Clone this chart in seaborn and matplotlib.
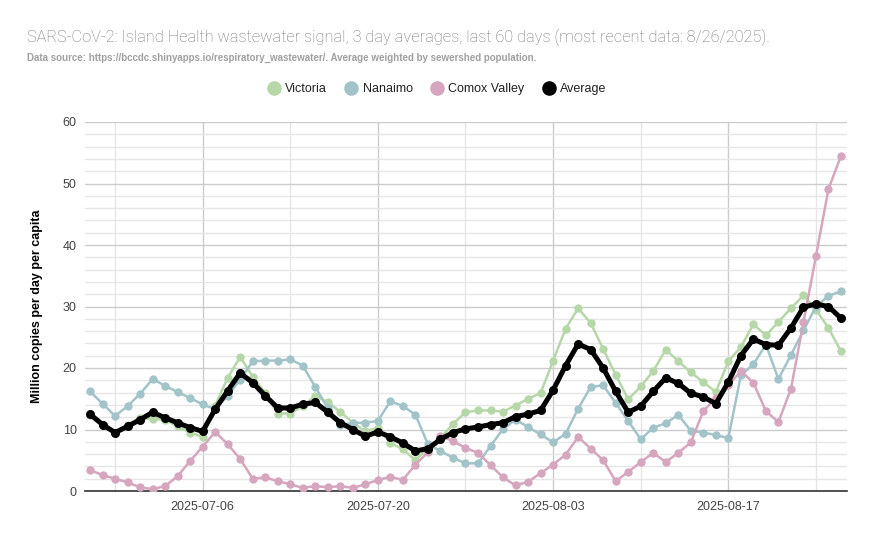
import numpy as np
import pandas as pd
import matplotlib
matplotlib.use("Agg")
import matplotlib.pyplot as plt
from matplotlib.lines import Line2D
import seaborn as sns

dates = pd.date_range("2025-06-27", "2025-08-26", freq="D")

victoria = [12.4, 10.8, 9.5, 10.7, 11.9, 11.7, 11.6, 10.5, 9.5, 8.8,
            13.9, 18.4, 21.8, 18.6, 15.9, 12.6, 12.6, 13.8, 15.5, 14.4,
            12.9, 11.1, 9.7, 10.3, 7.8, 6.8, 5.0, 7.0, 8.6, 10.9,
            12.8, 13.1, 13.1, 12.9, 13.9, 15.0, 15.9, 21.2, 26.4, 29.7,
            27.3, 23.1, 18.9, 14.9, 17.0, 19.5, 23.0, 21.1, 19.3, 17.7,
            16.1, 21.1, 23.4, 27.1, 25.3, 27.5, 29.7, 31.8, 29.5, 26.5, 22.7]
nanaimo = [16.2, 14.2, 12.2, 13.8, 15.8, 18.2, 17.1, 16.1, 15.1, 14.1,
           13.3, 15.5, 18.1, 21.1, 21.2, 21.2, 21.4, 20.4, 16.9, 13.5,
           10.7, 11.1, 11.1, 11.4, 14.6, 13.8, 12.4, 7.6, 6.5, 5.4,
           4.5, 4.5, 7.3, 10.1, 11.6, 10.4, 9.2, 7.9, 9.3, 13.4,
           16.9, 17.2, 14.3, 11.4, 8.4, 10.3, 11.0, 12.4, 9.8, 9.5,
           9.1, 8.6, 18.8, 20.6, 23.8, 18.2, 22.1, 26.1, 30.0, 31.7, 32.5]
comox = [3.4, 2.6, 2.0, 1.4, 0.6, 0.3, 0.8, 2.4, 4.9, 7.2,
         9.6, 7.6, 5.2, 2.0, 2.2, 1.6, 1.1, 0.5, 0.8, 0.6,
         0.8, 0.5, 1.1, 1.8, 2.3, 1.8, 4.3, 6.3, 9.0, 8.1,
         7.0, 6.2, 4.2, 2.2, 0.9, 1.5, 2.9, 4.3, 5.9, 8.8,
         6.9, 5.0, 1.6, 3.1, 4.7, 6.2, 4.7, 6.2, 7.9, 13.0,
         15.1, 17.2, 19.5, 17.6, 13.0, 11.2, 16.6, 27.4, 38.2, 49.1, 54.5]
average = [12.5, 10.8, 9.5, 10.5, 11.6, 12.8, 11.9, 11.1, 10.3, 9.7,
           13.3, 16.3, 19.2, 17.6, 15.5, 13.5, 13.5, 14.1, 14.4, 12.8,
           11.1, 10.0, 8.9, 9.6, 8.8, 7.8, 6.5, 6.9, 8.4, 9.5,
           10.1, 10.4, 10.8, 11.1, 12.1, 12.5, 13.1, 16.4, 20.4, 23.9,
           23.0, 20.0, 16.2, 12.8, 13.8, 16.2, 18.4, 17.5, 15.9, 15.3,
           14.2, 17.7, 22.0, 24.7, 23.8, 23.7, 26.5, 29.9, 30.4, 30.0, 28.1]

series_names = ["Victoria", "Nanaimo", "Comox Valley", "Average"]
colors = ["#b6d7a8", "#a2c4c9", "#d5a6bd", "#000000"]
x_ticks = ["2025-07-06", "2025-07-20", "2025-08-03", "2025-08-17"]

title = "SARS-CoV-2: Island Health wastewater signal, 3 day averages, last 60 days (most recent data: 8/26/2025)."
subtitle = "Data source: https://bccdc.shinyapps.io/respiratory_wastewater/. Average weighted by sewershed population."
ylabel = "Million copies per day per capita"

df = pd.DataFrame({"date": dates, "Victoria": victoria, "Nanaimo": nanaimo,
                   "Comox Valley": comox, "Average": average})
long = df.melt(id_vars="date", var_name="series", value_name="value")

sns.set_theme(style="white")
plt.rcParams["font.family"] = ["Liberation Sans", "DejaVu Sans"]

fig = plt.figure(figsize=(8.73, 5.39), dpi=100)
ax = fig.add_axes([85/873, 1-491/539, (847-85)/873, (491-122)/539])

for name, col in zip(series_names, colors):
    sub = long[long["series"] == name]
    is_avg = name == "Average"
    sns.lineplot(data=sub, x="date", y="value", ax=ax, color=col,
                 linewidth=3.6 if is_avg else 1.8,
                 marker="o", markersize=6.5 if is_avg else 6,
                 markeredgewidth=0, zorder=5 if is_avg else 3,
                 legend=False)

ax.set_ylim(0, 60)
ax.set_xlim(dates[0] - pd.Timedelta(days=0.4), dates[-1] + pd.Timedelta(days=0.48))
ax.set_yticks(range(0, 61, 10))
ax.set_yticks(range(0, 61, 2), minor=True)
tick_dates = pd.to_datetime(x_ticks)
ax.set_xticks(tick_dates)
ax.set_xticklabels(x_ticks)
ax.set_xticks(pd.date_range("2025-06-29", "2025-08-24", freq="7D"), minor=True)
ax.grid(which="major", color="#cccccc", linewidth=1.0)
ax.grid(which="minor", color="#e6e6e6", linewidth=1.0)
ax.set_axisbelow(True)
for s in ["top", "right", "left"]:
    ax.spines[s].set_visible(False)
ax.spines["bottom"].set_color("#333333")
ax.spines["bottom"].set_linewidth(1.2)
ax.tick_params(axis="both", which="both", length=0, labelsize=9, colors="#444444")
ax.tick_params(axis="y", pad=6)
ax.tick_params(axis="x", pad=7)
ax.set_xlabel("")
ax.set_ylabel(ylabel, fontsize=9, fontweight="bold", color="#000000", labelpad=14)

fig.text(27/873, 1-37/539, title, fontsize=11.8, color="#757575", va="center", ha="left",
         fontweight="light", family=["Roboto", "DejaVu Sans"])
fig.text(27/873, 1-58/539, subtitle, fontsize=7.05, color="#a0a0a0", va="center", ha="left",
         fontweight="bold")

handles = [Line2D([], [], linestyle="none", marker="o", markersize=10.5, color=c,
                  markeredgewidth=0) for c in colors]
fig.legend(handles, series_names, loc="center", bbox_to_anchor=(437/873, 1-89/539),
           ncol=4, frameon=False, fontsize=9, handletextpad=0.4, columnspacing=1.45,
           handlelength=1.0, labelcolor="#222222")

fig.savefig("out.png", dpi=100)
